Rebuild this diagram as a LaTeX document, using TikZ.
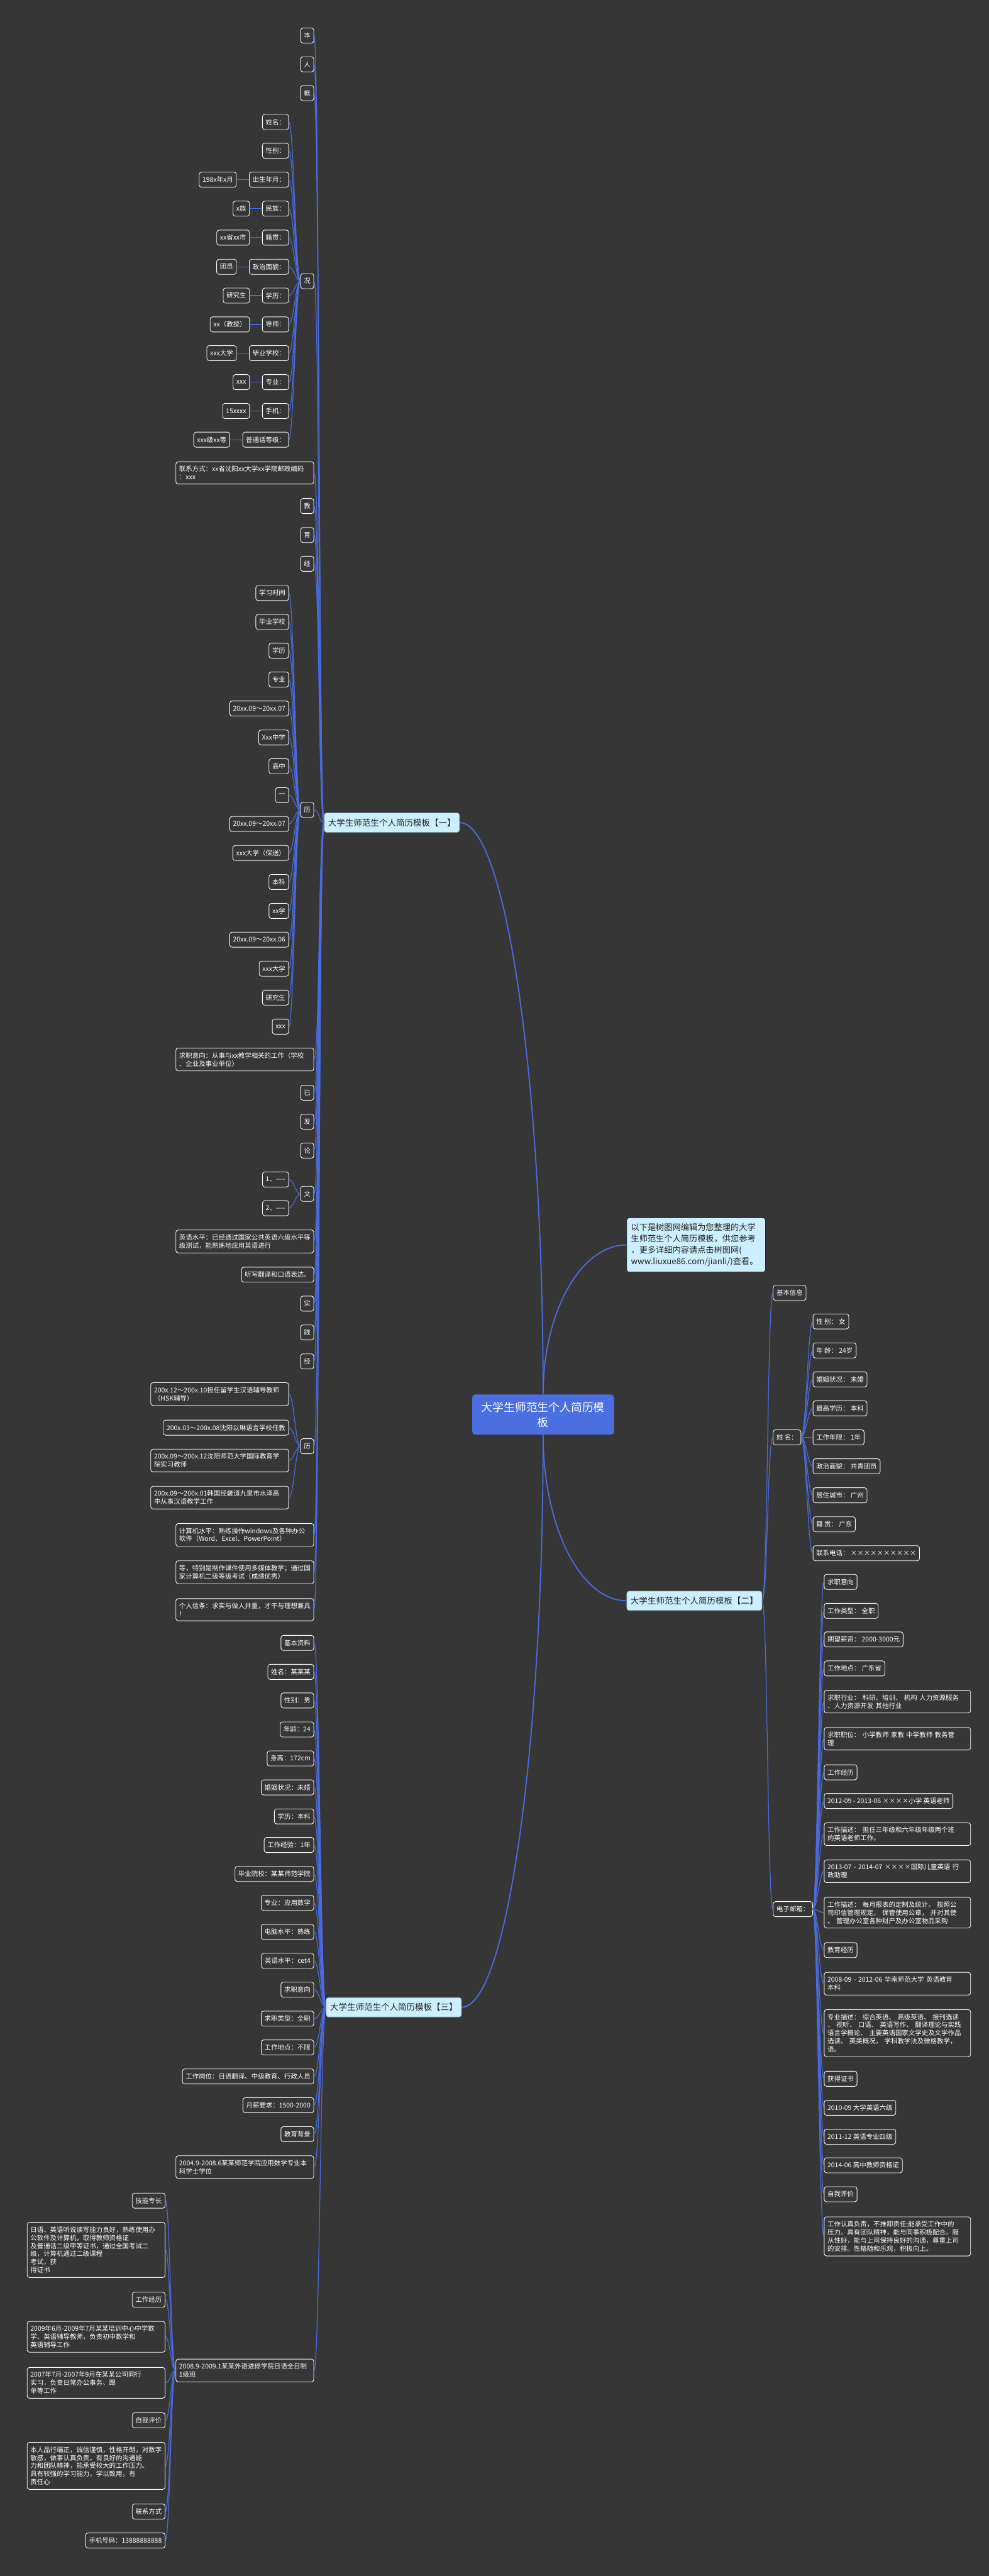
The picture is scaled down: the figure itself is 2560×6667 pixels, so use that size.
\documentclass[tikz,border=0pt]{standalone}
\usepackage{fontspec}
\setmainfont{Noto Sans CJK SC}
\definecolor{bgc}{HTML}{373637}
\definecolor{linec}{HTML}{4A6BDD}
\definecolor{ctrc}{HTML}{4B6EE0}
\definecolor{cyanc}{HTML}{CCEFFF}
\definecolor{darkt}{HTML}{222222}
\begin{document}
\begin{tikzpicture}[x=1pt,y=-1pt,
 leaf/.style={draw=white, line width=1.4pt, rounded corners=6pt, fill=bgc, text=white,
   font=\fontsize{17}{21}\selectfont, inner xsep=8.5pt, inner ysep=11pt, minimum height=39pt, align=left},
 wl/.style={leaf, text width=340pt},
 wr/.style={leaf, text width=362pt},
 branchbox/.style={draw=cyanc!75!black, line width=1pt, rounded corners=6pt, fill=cyanc, text=darkt,
   font=\fontsize{22}{29}\selectfont, inner xsep=10pt, inner ysep=14pt, minimum height=50pt},
 conn/.style={draw=linec, line width=2pt},
 mainln/.style={draw=linec, line width=3pt},
]
\useasboundingbox (0,0) rectangle (2560,6667);
\fill[bgc] (0,0) rectangle (2560,6667);

% ---------- centre, note, branches
\node[fill=ctrc, rounded corners=8pt, text=white, font=\fontsize{29}{39}\selectfont, align=center,
  inner xsep=24pt, inner ysep=19pt] (ctr) at (1406,3661) {大学生师范生个人简历模\\板};
\node[fill=cyanc, draw=black, line width=1pt, rounded corners=6pt, text=darkt, font=\fontsize{21.5}{29}\selectfont,
  align=left, text width=337pt, inner xsep=11pt, inner ysep=15pt, anchor=west] (note) at (1622,3222)
  {以下是树图网编辑为您整理的大学\\生师范生个人简历模板，供您参考\\，更多详细内容请点击树图网(\\www.liuxue86.com/jianli/)查看。};
\node[branchbox, anchor=east] (b1) at (1190,2129) {大学生师范生个人简历模板【一】};
\node[branchbox, anchor=west] (b2) at (1622,4143) {大学生师范生个人简历模板【二】};
\node[branchbox, anchor=east] (b3) at (1195,5195) {大学生师范生个人简历模板【三】};

\draw[mainln] (ctr.north) .. controls +(0,-816) and +(119,0) .. (b1.east);
\draw[mainln] (ctr.north) .. controls +(0,-213) and +(-119,0) .. (note.west);
\draw[mainln] (ctr.south) .. controls +(0,237) and +(-119,0) .. (b2.west);
\draw[mainln] (ctr.south) .. controls +(0,819) and +(116,0) .. (b3.east);

% ---------- branch 1
\node[leaf,anchor=east] (a1) at (813,92) {本};
\node[leaf,anchor=east] (a2) at (813,166.5) {人};
\node[leaf,anchor=east] (a3) at (813,241) {概};
\node[leaf,anchor=east] (a4) at (813,727.5) {况};
\node[wl,anchor=east] (a5) at (813,1224) {联系方式：xx省沈阳xx大学xx学院邮政编码\\：xxx};
\node[leaf,anchor=east] (a6) at (813,1309.7) {教};
\node[leaf,anchor=east] (a7) at (813,1384.7) {育};
\node[leaf,anchor=east] (a8) at (813,1459) {经};
\node[leaf,anchor=east] (a9) at (813,2096) {历};
\node[wl,anchor=east] (a10) at (813,2742) {求职意向：从事与xx教学相关的工作（学校\\、企业及事业单位）};
\node[leaf,anchor=east] (a11) at (813,2828) {已};
\node[leaf,anchor=east] (a12) at (813,2903) {发};
\node[leaf,anchor=east] (a13) at (813,2977.7) {论};
\node[leaf,anchor=east] (a14) at (813,3089.7) {文};
\node[wl,anchor=east] (a15) at (813,3213) {英语水平：已经通过国家公共英语六级水平等\\级测试，能熟练地应用英语进行};
\node[leaf,anchor=east] (a16) at (813,3299) {听写翻译和口语表达。};
\node[leaf,anchor=east] (a17) at (813,3374) {实};
\node[leaf,anchor=east] (a18) at (813,3448.5) {践};
\node[leaf,anchor=east] (a19) at (813,3523.5) {经};
\node[leaf,anchor=east] (a20) at (813,3743) {历};
\node[wl,anchor=east] (a21) at (813,3972.5) {计算机水平：熟练操作windows及各种办公\\软件（Word、Excel、PowerPoint）};
\node[wl,anchor=east] (a22) at (813,4069) {等，特别是制作课件使用多媒体教学；通过国\\家计算机二级等级考试（成绩优秀）};
\node[wl,anchor=east] (a23) at (813,4166) {个人信条：求实与做人并重，才干与理想兼具\\！};
\foreach \c in {a1,a2,a3,a4,a5,a6,a7,a8,a9,a10,a11,a12,a13,a14,a15,a16,a17,a18,a19,a20,a21,a22,a23}
  \draw[conn] (\c.east) .. controls +(14,0) and +(-14,0) .. (b1.west);

% 况 children
\node[leaf,anchor=east] (k1) at (748,315.8) {姓名：};
\node[leaf,anchor=east] (k2) at (748,390) {性别：};
\node[leaf,anchor=east] (k3) at (748,465) {出生年月：};
\node[leaf,anchor=east] (k4) at (748,540) {民族：};
\node[leaf,anchor=east] (k5) at (748,615) {籍贯：};
\node[leaf,anchor=east] (k6) at (748,690.5) {政治面貌：};
\node[leaf,anchor=east] (k7) at (748,765) {学历：};
\node[leaf,anchor=east] (k8) at (748,839.7) {导师：};
\node[leaf,anchor=east] (k9) at (748,914) {毕业学校：};
\node[leaf,anchor=east] (k10) at (748,989) {专业：};
\node[leaf,anchor=east] (k11) at (748,1063.6) {手机：};
\node[leaf,anchor=east] (k12) at (748,1138) {普通话等级：};
\foreach \c in {k1,k2,k3,k4,k5,k6,k7,k8,k9,k10,k11,k12}
  \draw[conn] (\c.east) .. controls +(12,0) and +(-12,0) .. (a4.west);
\node[leaf,anchor=east] (v3) at ([xshift=-32pt]k3.west) {198x年x月};
\node[leaf,anchor=east] (v4) at ([xshift=-32pt]k4.west) {x族};
\node[leaf,anchor=east] (v5) at ([xshift=-32pt]k5.west) {xx省xx市};
\node[leaf,anchor=east] (v6) at ([xshift=-32pt]k6.west) {团员};
\node[leaf,anchor=east] (v7) at ([xshift=-32pt]k7.west) {研究生};
\node[leaf,anchor=east] (v8) at ([xshift=-32pt]k8.west) {xx（教授）};
\node[leaf,anchor=east] (v9) at ([xshift=-32pt]k9.west) {xxx大学};
\node[leaf,anchor=east] (v10) at ([xshift=-32pt]k10.west) {xxx};
\node[leaf,anchor=east] (v11) at ([xshift=-32pt]k11.west) {15xxxx};
\node[leaf,anchor=east] (v12) at ([xshift=-32pt]k12.west) {xxx级xx等};
\foreach \i in {3,...,12}
  \draw[conn] (v\i.east) -- (k\i.west);

% 历 (education) children
\node[leaf,anchor=east] (e1) at (748,1534.8) {学习时间};
\node[leaf,anchor=east] (e2) at (748,1609.5) {毕业学校};
\node[leaf,anchor=east] (e3) at (748,1684) {学历};
\node[leaf,anchor=east] (e4) at (748,1758.7) {专业};
\node[leaf,anchor=east] (e5) at (748,1833.7) {20xx.09～20xx.07};
\node[leaf,anchor=east] (e6) at (748,1908.7) {Xxx中学};
\node[leaf,anchor=east] (e7) at (748,1983) {高中};
\node[leaf,anchor=east] (e8) at (748,2058) {一};
\node[leaf,anchor=east] (e9) at (748,2132.6) {20xx.09～20xx.07};
\node[leaf,anchor=east] (e10) at (748,2207.6) {xxx大学（保送）};
\node[leaf,anchor=east] (e11) at (748,2282.7) {本科};
\node[leaf,anchor=east] (e12) at (748,2357.6) {xx学};
\node[leaf,anchor=east] (e13) at (748,2432) {20xx.09～20xx.06};
\node[leaf,anchor=east] (e14) at (748,2507) {xxx大学};
\node[leaf,anchor=east] (e15) at (748,2582) {研究生};
\node[leaf,anchor=east] (e16) at (748,2657) {xxx};
\foreach \c in {e1,e2,e3,e4,e5,e6,e7,e8,e9,e10,e11,e12,e13,e14,e15,e16}
  \draw[conn] (\c.east) .. controls +(12,0) and +(-12,0) .. (a9.west);

% 文 children
\node[leaf,anchor=east] (w1) at (748,3052.7) {1、-----};
\node[leaf,anchor=east] (w2) at (748,3127) {2、-----};
\foreach \c in {w1,w2}
  \draw[conn] (\c.east) .. controls +(12,0) and +(-12,0) .. (a14.west);

% 历 (practice) children
\node[wl,anchor=east] (h1) at (748,3608) {200x.12～200x.10担任留学生汉语辅导教师\\（HSK辅导）};
\node[leaf,anchor=east] (h2) at (748,3695) {200x.03～200x.08沈阳以琳语言学校任教};
\node[wl,anchor=east] (h3) at (748,3780) {200x.09～200x.12沈阳师范大学国际教育学\\院实习教师};
\node[wl,anchor=east] (h4) at (748,3876) {200x.09～200x.01韩国经畿道九里市水泽高\\中从事汉语教学工作};
\foreach \c in {h1,h2,h3,h4}
  \draw[conn] (\c.east) .. controls +(12,0) and +(-12,0) .. (a20.west);

% ---------- branch 2
\node[leaf,anchor=west] (r1) at (2001,3346) {基本信息};
\node[leaf,anchor=west] (r2) at (2001,3720) {姓 名：};
\node[leaf,anchor=west] (r3) at (2001,4941) {电子邮箱：};
\foreach \c in {r1,r2,r3}
  \draw[conn] (b2.east) .. controls +(14,0) and +(-14,0) .. (\c.west);

\node[leaf,anchor=west] (s1) at (2104,3420) {性 别： 女};
\node[leaf,anchor=west] (s2) at (2104,3495) {年 龄： 24岁};
\node[leaf,anchor=west] (s3) at (2104,3570) {婚姻状况： 未婚};
\node[leaf,anchor=west] (s4) at (2104,3645) {最高学历： 本科};
\node[leaf,anchor=west] (s5) at (2104,3720) {工作年限： 1年};
\node[leaf,anchor=west] (s6) at (2104,3795) {政治面貌： 共青团员};
\node[leaf,anchor=west] (s7) at (2104,3870) {居住城市： 广州};
\node[leaf,anchor=west] (s8) at (2104,3945) {籍 贯： 广东};
\node[leaf,anchor=west] (s9) at (2104,4020) {联系电话： ××××××××××};
\foreach \c in {s1,s2,s3,s4,s5,s6,s7,s8,s9}
  \draw[conn] (r2.east) .. controls +(12,0) and +(-12,0) .. (\c.west);

\node[leaf,anchor=west] (t1) at (2133,4094) {求职意向};
\node[leaf,anchor=west] (t2) at (2133,4169) {工作类型： 全职};
\node[leaf,anchor=west] (t3) at (2133,4243) {期望薪资： 2000-3000元};
\node[leaf,anchor=west] (t4) at (2133,4318) {工作地点： 广东省};
\node[wr,anchor=west] (t5) at (2133,4404) {求职行业： 科研、培训、 机构 人力资源服务\\、人力资源开发 其他行业};
\node[wr,anchor=west] (t6) at (2133,4500) {求职职位： 小学教师 家教 中学教师 教务管\\理};
\node[leaf,anchor=west] (t7) at (2133,4587) {工作经历};
\node[leaf,anchor=west] (t8) at (2133,4661) {2012-09 - 2013-06 ××××小学 英语老师};
\node[wr,anchor=west] (t9) at (2133,4747) {工作描述： 担任三年级和六年级年级两个班\\的英语老师工作。};
\node[wr,anchor=west] (t10) at (2133,4843) {2013-07 - 2014-07 ××××国际儿童英语 行\\政助理};
\node[wr,anchor=west] (t11) at (2133,4950) {工作描述： 每月报表的定制及统计。 按照公\\司印信管理规定， 保管使用公章， 并对其使\\。 管理办公室各种财产及办公室物品采购};
\node[leaf,anchor=west] (t12) at (2133,5047) {教育经历};
\node[wr,anchor=west] (t13) at (2133,5134) {2008-09 - 2012-06 华南师范大学 英语教育\\本科};
\node[wr,anchor=west] (t14) at (2133,5262) {专业描述： 综合英语、 高级英语、 报刊选读\\、 视听、 口语、 英语写作、 翻译理论与实践\\语言学概论、 主要英语国家文学史及文学作品\\选读、 英美概况， 学科教学法及微格教学，\\语。};
\node[leaf,anchor=west] (t15) at (2133,5380) {获得证书};
\node[leaf,anchor=west] (t16) at (2133,5455) {2010-09 大学英语六级};
\node[leaf,anchor=west] (t17) at (2133,5530) {2011-12 英语专业四级};
\node[leaf,anchor=west] (t18) at (2133,5604) {2014-06 高中教师资格证};
\node[leaf,anchor=west] (t19) at (2133,5679) {自我评价};
\node[wr,anchor=west] (t20) at (2133,5788) {工作认真负责，不推卸责任;能承受工作中的\\压力。具有团队精神，能与同事积极配合。服\\从性好，能与上司保持良好的沟通，尊重上司\\的安排。性格随和乐观，积极向上。};
\foreach \c in {t1,t2,t3,t4,t5,t6,t7,t8,t9,t10,t11,t12,t13,t14,t15,t16,t17,t18,t19,t20}
  \draw[conn] (r3.east) .. controls +(12,0) and +(-12,0) .. (\c.west);

% ---------- branch 3
\node[leaf,anchor=east] (c1) at (813,4252) {基本资料};
\node[leaf,anchor=east] (c2) at (813,4327) {姓名：某某某};
\node[leaf,anchor=east] (c3) at (813,4401) {性别：男};
\node[leaf,anchor=east] (c4) at (813,4476) {年龄：24};
\node[leaf,anchor=east] (c5) at (813,4551) {身高：172cm};
\node[leaf,anchor=east] (c6) at (813,4626) {婚姻状况：未婚};
\node[leaf,anchor=east] (c7) at (813,4701) {学历：本科};
\node[leaf,anchor=east] (c8) at (813,4775) {工作经验：1年};
\node[leaf,anchor=east] (c9) at (813,4850) {毕业院校：某某师范学院};
\node[leaf,anchor=east] (c10) at (813,4925) {专业：应用数学};
\node[leaf,anchor=east] (c11) at (813,5000) {电脑水平：熟练};
\node[leaf,anchor=east] (c12) at (813,5075) {英语水平：cet4};
\node[leaf,anchor=east] (c13) at (813,5149.5) {求职意向};
\node[leaf,anchor=east] (c14) at (813,5224.5) {求职类型：全职};
\node[leaf,anchor=east] (c15) at (813,5299) {工作地点：不限};
\node[leaf,anchor=east] (c16) at (813,5374) {工作岗位：日语翻译、中级教育、行政人员};
\node[leaf,anchor=east] (c17) at (813,5448.5) {月薪要求：1500-2000};
\node[leaf,anchor=east] (c18) at (813,5523.5) {教育背景};
\node[wl,anchor=east] (c19) at (813,5608.7) {2004.9-2008.6某某师范学院应用数学专业本\\科学士学位};
\node[wl,anchor=east] (c20) at (813,6135) {2008.9-2009.1某某外语进修学院日语全日制\\1级班};
\foreach \c in {c1,c2,c3,c4,c5,c6,c7,c8,c9,c10,c11,c12,c13,c14,c15,c16,c17,c18,c19,c20}
  \draw[conn] (\c.east) .. controls +(14,0) and +(-14,0) .. (b3.west);

\node[leaf,anchor=east] (d1) at (428,5695.5) {技能专长};
\node[wl,anchor=east] (d2) at (428,5823) {日语、英语听说读写能力良好，熟练使用办\\公软件及计算机，取得教师资格证\\及普通话二级甲等证书，通过全国考试二\\级，计算机通过二级课程\\考试，获\\得证书};
\node[leaf,anchor=east] (d3) at (428,5952) {工作经历};
\node[wl,anchor=east] (d4) at (428,6048) {2009年6月-2009年7月某某培训中心中学数\\学、英语辅导教师，负责初中数学和\\英语辅导工作};
\node[wl,anchor=east] (d5) at (428,6167) {2007年7月-2007年9月在某某公司同行\\实习，负责日常办公事务、跟\\单等工作};
\node[leaf,anchor=east] (d6) at (428,6264) {自我评价};
\node[wl,anchor=east] (d7) at (428,6382) {本人品行端正，诚信谨慎，性格开朗，对数字\\敏感，做事认真负责，有良好的沟通能\\力和团队精神，能承受较大的工作压力。\\具有较强的学习能力，学以致用，有\\责任心};
\node[leaf,anchor=east] (d8) at (428,6500) {联系方式};
\node[leaf,anchor=east] (d9) at (428,6575) {手机号码：13888888888};
\foreach \c in {d1,d2,d3,d4,d5,d6,d7,d8,d9}
  \draw[conn] (\c.east) .. controls +(12,0) and +(-12,0) .. (c20.west);
\end{tikzpicture}
\end{document}
